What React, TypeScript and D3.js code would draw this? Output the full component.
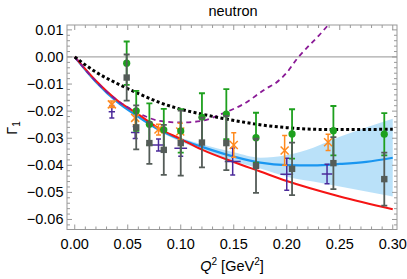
import { useRef, useEffect } from "react";
import * as d3 from "d3";

// Q^2 positions shared by the green and gray sets
const q2Main = [0.049, 0.058, 0.0704, 0.084, 0.1, 0.12, 0.143, 0.171, 0.205, 0.244, 0.292];
const greenVal = [-0.0023, -0.0199, -0.0248, -0.0269, -0.0273, -0.0223, -0.0211, -0.0298, -0.0284, -0.0272, -0.0285];
const greenErr = [0.008, 0.0074, 0.0077, 0.0077, 0.008, 0.0089, 0.0092, 0.0092, 0.0091, 0.0091, 0.0078];
const grayVal = [-0.0076, -0.026, -0.0318, -0.0343, -0.0318, -0.0316, -0.0318, -0.0402, -0.0413, -0.0392, -0.0451];
const grayErr = [0.0085, 0.0081, 0.0077, 0.0092, 0.012, 0.0092, 0.01, 0.01, 0.0097, 0.0096, 0.0098];

const q2Orange = [0.035, 0.057, 0.079, 0.0995, 0.15, 0.198, 0.239];
const orangeVal = [-0.0175, -0.0225, -0.0268, -0.0275, -0.0325, -0.0345, -0.0315];
const orangeErr = [0.0012, 0.0025, 0.002, 0.003, 0.0045, 0.0055, 0.003];

const q2Purple = [0.035, 0.057, 0.079, 0.1, 0.149, 0.2, 0.238];
const purpleVal = [-0.0202, -0.0279, -0.0325, -0.0337, -0.0386, -0.0433, -0.0432];
const purpleErrY = [0.0023, 0.0022, 0.0022, 0.003, 0.005, 0.0059, 0.0036];
const purpleErrX = [0.003, 0.004, 0.006, 0.006, 0.0075, 0.006, 0.005];

// curves
const redQ = [0, 0.02, 0.04, 0.06, 0.08, 0.1, 0.12, 0.15, 0.175, 0.2, 0.25, 0.3];
const redVal = [0, -0.0088, -0.016, -0.0212, -0.0265, -0.0303, -0.0342, -0.0388, -0.0423, -0.0458, -0.0515, -0.0562];

const blueQ = [0, 0.02, 0.04, 0.06, 0.08, 0.1, 0.12, 0.15, 0.175, 0.2, 0.225, 0.25, 0.275, 0.3];
const blueVal = [0, -0.0092, -0.0166, -0.0221, -0.027, -0.0305, -0.0332, -0.0368, -0.039, -0.0399, -0.04, -0.0395, -0.0387, -0.0372];

const bandQ = [0.05, 0.08, 0.1, 0.12, 0.15, 0.175, 0.2, 0.225, 0.25, 0.275, 0.3];
const bandHi = [-0.0193, -0.0265, -0.0298, -0.0322, -0.0352, -0.0372, -0.0362, -0.0335, -0.0295, -0.026, -0.0228];
const bandLo = [-0.0195, -0.0275, -0.0313, -0.0343, -0.0385, -0.0412, -0.0442, -0.046, -0.0478, -0.0497, -0.0515];

const blackQ = [0, 0.02, 0.04, 0.06, 0.08, 0.1, 0.12, 0.14, 0.16, 0.18, 0.2, 0.24, 0.3];
const blackVal = [0, -0.0056, -0.0098, -0.0135, -0.0168, -0.0193, -0.0211, -0.0227, -0.0241, -0.0253, -0.0261, -0.0268, -0.0267];

const purpleQ = [0, 0.02, 0.04, 0.06, 0.08, 0.1, 0.12, 0.14, 0.16, 0.18, 0.19, 0.2, 0.21, 0.22, 0.23, 0.24];
const purpleCurve = [0, -0.009, -0.016, -0.0207, -0.0236, -0.0242, -0.0236, -0.0208, -0.0172, -0.0118, -0.0095, -0.0058, -0.0005, 0.0038, 0.0078, 0.0122];

const xTicks = [0, 0.05, 0.1, 0.15, 0.2, 0.25, 0.3];
const yTicks = [0.01, 0, -0.01, -0.02, -0.03, -0.04, -0.05, -0.06];

const W = 407;
const H = 279;

const App = () => {
  const svgRef = useRef<SVGSVGElement | null>(null);

  useEffect(() => {
    if (!svgRef.current) return;
    const svg = d3.select(svgRef.current);
    svg.selectAll("*").remove();

    const left = 67, right = 397, top = 25, bottom = 229.5;
    const x = d3.scaleLinear().domain([-0.0073, 0.304]).range([left, right]);
    const y = d3.scaleLinear().domain([-0.0637, 0.0118]).range([bottom, top]);
    const font = "'Liberation Sans', Arial, sans-serif";

    svg.append("defs").append("clipPath").attr("id", "plotclip")
      .append("rect").attr("x", left).attr("y", top)
      .attr("width", right - left).attr("height", bottom - top);

    const plot = svg.append("g").attr("clip-path", "url(#plotclip)");

    // zero line
    plot.append("line")
      .attr("x1", left).attr("x2", right)
      .attr("y1", y(0)).attr("y2", y(0))
      .attr("stroke", "#aaa").attr("stroke-width", 1.2);

    // band
    const area = d3.area<number>()
      .x((_, i) => x(bandQ[i]))
      .y0((_, i) => y(bandLo[i]))
      .y1((_, i) => y(bandHi[i]))
      .curve(d3.curveMonotoneX);
    plot.append("path").datum(bandQ).attr("d", area)
      .attr("fill", "#8ccdf5").attr("fill-opacity", 0.6);

    const lineOf = (qs: number[], vs: number[]) =>
      d3.line<number>().x((_, i) => x(qs[i])).y((_, i) => y(vs[i])).curve(d3.curveMonotoneX)(vs);

    plot.append("path").attr("d", lineOf(blueQ, blueVal))
      .attr("fill", "none").attr("stroke", "#1a96f0").attr("stroke-width", 2.2);
    plot.append("path").attr("d", lineOf(redQ, redVal))
      .attr("fill", "none").attr("stroke", "#f51414").attr("stroke-width", 2);
    plot.append("path").attr("d", lineOf(purpleQ, purpleCurve))
      .attr("fill", "none").attr("stroke", "#8a1a96").attr("stroke-width", 1.8)
      .attr("stroke-dasharray", "5 4");
    plot.append("path").attr("d", lineOf(blackQ, blackVal))
      .attr("fill", "none").attr("stroke", "#000").attr("stroke-width", 3)
      .attr("stroke-dasharray", "3 2.5");

    // purple crosses
    const pc = "#4b2a9a";
    q2Purple.forEach((q, i) => {
      const g = plot.append("g").attr("stroke", pc).attr("stroke-width", 1.5);
      g.append("line").attr("x1", x(q)).attr("x2", x(q))
        .attr("y1", y(purpleVal[i] + purpleErrY[i])).attr("y2", y(purpleVal[i] - purpleErrY[i]));
      g.append("line").attr("x1", x(q - purpleErrX[i])).attr("x2", x(q + purpleErrX[i]))
        .attr("y1", y(purpleVal[i])).attr("y2", y(purpleVal[i]));
      [purpleVal[i] + purpleErrY[i], purpleVal[i] - purpleErrY[i]].forEach((v) => {
        g.append("line").attr("x1", x(q) - 2.5).attr("x2", x(q) + 2.5)
          .attr("y1", y(v)).attr("y2", y(v));
      });
    });

    // orange X markers
    const oc = "#ff8a1e";
    q2Orange.forEach((q, i) => {
      const g = plot.append("g").attr("stroke", oc).attr("stroke-width", 1.5);
      const cx = x(q), cy = y(orangeVal[i]);
      g.append("line").attr("x1", cx).attr("x2", cx)
        .attr("y1", y(orangeVal[i] + orangeErr[i])).attr("y2", y(orangeVal[i] - orangeErr[i]));
      [orangeVal[i] + orangeErr[i], orangeVal[i] - orangeErr[i]].forEach((v) => {
        g.append("line").attr("x1", cx - 2.5).attr("x2", cx + 2.5).attr("y1", y(v)).attr("y2", y(v));
      });
      g.append("line").attr("x1", cx - 4).attr("x2", cx + 4).attr("y1", cy - 4).attr("y2", cy + 4);
      g.append("line").attr("x1", cx - 4).attr("x2", cx + 4).attr("y1", cy + 4).attr("y2", cy - 4);
    });

    // green points
    const gc = "#1ea01e";
    q2Main.forEach((q, i) => {
      const g = plot.append("g").attr("stroke", gc).attr("stroke-width", 1.8);
      const cx = x(q);
      g.append("line").attr("x1", cx).attr("x2", cx)
        .attr("y1", y(greenVal[i] + greenErr[i])).attr("y2", y(greenVal[i] - greenErr[i]));
      [greenVal[i] + greenErr[i], greenVal[i] - greenErr[i]].forEach((v) => {
        g.append("line").attr("x1", cx - 3).attr("x2", cx + 3).attr("y1", y(v)).attr("y2", y(v));
      });
      plot.append("circle").attr("cx", cx).attr("cy", y(greenVal[i])).attr("r", 3.6).attr("fill", gc);
    });

    // gray points
    const kc = "#545c58";
    q2Main.forEach((q, i) => {
      const g = plot.append("g").attr("stroke", kc).attr("stroke-width", 1.8);
      const cx = x(q);
      g.append("line").attr("x1", cx).attr("x2", cx)
        .attr("y1", y(grayVal[i] + grayErr[i])).attr("y2", y(grayVal[i] - grayErr[i]));
      [grayVal[i] + grayErr[i], grayVal[i] - grayErr[i]].forEach((v) => {
        g.append("line").attr("x1", cx - 3).attr("x2", cx + 3).attr("y1", y(v)).attr("y2", y(v));
      });
      plot.append("rect").attr("x", cx - 3.2).attr("y", y(grayVal[i]) - 3.2)
        .attr("width", 6.4).attr("height", 6.4).attr("fill", kc);
    });

    // frame + ticks
    const frame = svg.append("g").attr("stroke", "#999").attr("stroke-width", 1);
    frame.append("rect").attr("x", left).attr("y", top)
      .attr("width", right - left).attr("height", bottom - top).attr("fill", "none");

    const xMinor = d3.range(0, 0.3001, 0.01);
    const yMinor = d3.range(-0.062, 0.0101, 0.002);
    xMinor.forEach((t) => {
      const major = xTicks.some((m) => Math.abs(m - t) < 1e-6);
      const len = major ? 5 : 3;
      frame.append("line").attr("x1", x(t)).attr("x2", x(t)).attr("y1", bottom).attr("y2", bottom - len);
      frame.append("line").attr("x1", x(t)).attr("x2", x(t)).attr("y1", top).attr("y2", top + len);
    });
    yMinor.forEach((t) => {
      const major = yTicks.some((m) => Math.abs(m - t) < 1e-6);
      const len = major ? 5 : 3;
      frame.append("line").attr("x1", left).attr("x2", left + len).attr("y1", y(t)).attr("y2", y(t));
      frame.append("line").attr("x1", right).attr("x2", right - len).attr("y1", y(t)).attr("y2", y(t));
    });

    const fmt = (v: number) => (v < 0 ? "\u2212" : "") + Math.abs(v).toFixed(2);
    svg.append("g").selectAll("text").data(xTicks).enter().append("text")
      .attr("x", (d) => x(d)).attr("y", 248.5)
      .attr("text-anchor", "middle").attr("font-family", font).attr("font-size", 14.5)
      .text((d) => d.toFixed(2));
    svg.append("g").selectAll("text").data(yTicks).enter().append("text")
      .attr("x", 63.5).attr("y", (d) => y(d) + 5)
      .attr("text-anchor", "end").attr("font-family", font).attr("font-size", 14.5)
      .text((d) => fmt(d));

    // title
    svg.append("text").attr("x", 233).attr("y", 15.5).attr("text-anchor", "middle")
      .attr("font-family", font).attr("font-size", 14.5).text("neutron");

    // x label
    const xl = svg.append("text").attr("x", 232).attr("y", 270.5).attr("text-anchor", "middle")
      .attr("font-family", font).attr("font-size", 14.5);
    xl.append("tspan").attr("font-style", "italic").text("Q");
    xl.append("tspan").attr("font-size", 10).attr("dy", -6).text("2");
    xl.append("tspan").attr("dy", 6).text(" [GeV");
    xl.append("tspan").attr("font-size", 10).attr("dy", -6).text("2");
    xl.append("tspan").attr("dy", 6).text("]");

    // y label
    const yl = svg.append("text").attr("transform", "translate(17,128) rotate(-90)")
      .attr("text-anchor", "middle").attr("font-family", font).attr("font-size", 14.5);
    yl.append("tspan").text("\u0393");
    yl.append("tspan").attr("font-size", 10).attr("dy", 3).text("1");
  }, []);

  return (
    <svg ref={svgRef} width={W} height={H}
      style={{ position: "absolute", left: 0, top: 0, background: "#fff" }} />
  );
};

export default App;
